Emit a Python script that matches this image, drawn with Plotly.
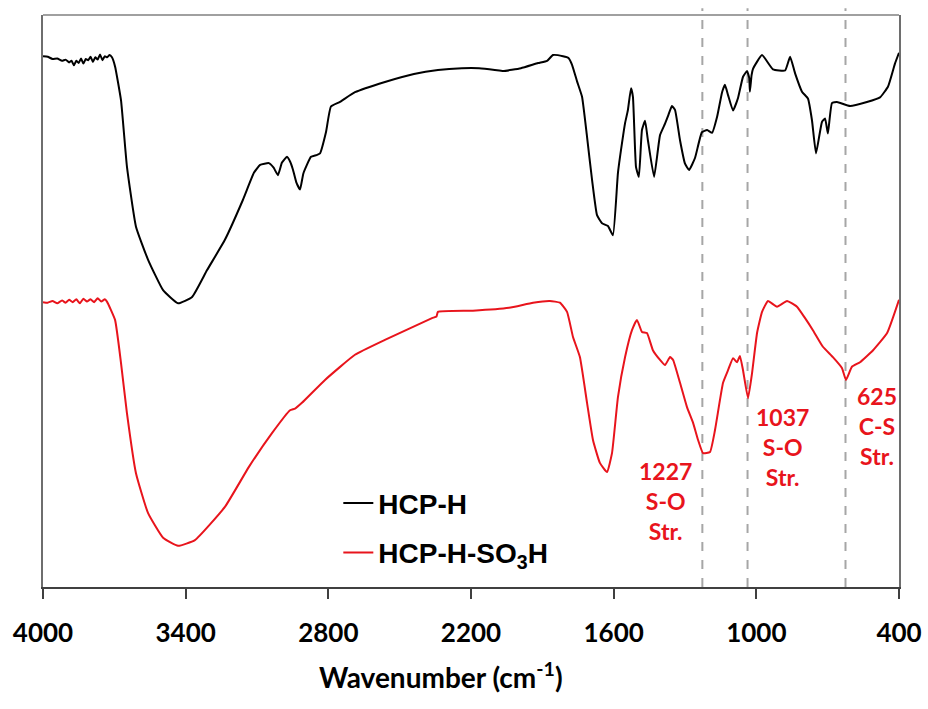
import plotly.graph_objects as go

# ---------------- data ----------------
# HCP-H (black), wavenumber (cm-1) and offset transmittance (a.u.)
hcp_w = [4000, 3980, 3960, 3940, 3920, 3905, 3890, 3880, 3870, 3860, 3850, 3840,
         3830, 3820, 3810, 3800, 3790, 3780, 3770, 3760, 3750, 3740, 3730, 3720,
         3710, 3697, 3672, 3647, 3609, 3558, 3495, 3432, 3373, 3310, 3235, 3159,
         3113, 3087, 3050, 3030, 3012, 2995, 2974, 2960, 2949, 2935, 2919, 2905,
         2873, 2850, 2835, 2810, 2789, 2751, 2688, 2562, 2440, 2339, 2238, 2166,
         2100, 2065, 1990, 1918, 1880, 1855, 1813, 1790, 1775, 1754, 1733, 1712,
         1691, 1670, 1649, 1624, 1603, 1582, 1560, 1552, 1540, 1527, 1519, 1506,
         1494, 1481, 1468, 1456, 1430, 1405, 1384, 1370, 1355, 1342, 1321, 1300,
         1283, 1258, 1229, 1207, 1186, 1165, 1144, 1132, 1119, 1098, 1077, 1056,
         1039, 1030, 1027, 1020, 1014, 976, 930, 879, 858, 837, 808, 783, 766, 749,
         724, 711, 699, 682, 661, 606, 535, 480, 446, 417, 400]
hcp_t = [92.8, 92.7, 92.3, 92.4, 92.0, 92.2, 91.7, 92.0, 91.2, 92.0, 91.6, 92.4,
         91.5, 92.3, 92.1, 92.7, 91.8, 92.6, 92.2, 93.1, 92.1, 92.8, 92.6, 93.0,
         92.6, 91.0, 85.1, 73.5, 63.0, 57.2, 51.9, 49.6, 50.7, 55.4, 60.7, 67.7,
         72.4, 73.8, 74.1, 73.3, 72.0, 74.2, 75.2, 74.3, 73.0, 70.8, 69.5, 72.3,
         75.2, 75.5, 75.8, 79.5, 84.0, 84.8, 86.5, 88.3, 89.7, 90.4, 90.7, 90.7,
         90.4, 90.2, 90.7, 91.6, 92.0, 93.0, 92.8, 92.5, 91.3, 88.4, 85.7, 78.7,
         71.2, 65.0, 63.6, 63.1, 61.5, 72.4, 79.0, 81.1, 83.4, 87.2, 85.7, 73.4,
         71.7, 79.9, 81.5, 78.1, 71.7, 79.0, 81.0, 82.5, 84.1, 83.4, 78.1, 74.0,
         72.9, 75.0, 79.5, 79.9, 79.4, 82.2, 86.5, 87.8, 86.0, 83.3, 85.5, 89.2,
         90.2, 89.0, 86.6, 89.5, 90.6, 93.0, 90.5, 90.3, 92.7, 89.8, 86.6, 85.4, 81.6, 75.8,
         81.3, 81.9, 79.3, 84.6, 84.8, 84.1, 84.8, 85.6, 87.5, 91.5, 93.4]

# HCP-H-SO3H (red)
so3h_w = [4000, 3980, 3960, 3940, 3920, 3905, 3890, 3875, 3860, 3845, 3830, 3815,
          3800, 3785, 3770, 3755, 3740, 3731, 3697, 3672, 3647, 3609, 3558, 3495,
          3432, 3361, 3235, 3134, 3037, 2961, 2940, 2911, 2814, 2688, 2562, 2364,
          2345, 2339, 2192, 2040, 1939, 1868, 1826, 1796, 1771, 1742, 1712, 1687,
          1658, 1628, 1607, 1582, 1552, 1523, 1502, 1481, 1460, 1435, 1405, 1384,
          1363, 1350, 1321, 1292, 1266, 1245, 1224, 1195, 1174, 1140, 1119, 1098,
          1081, 1069, 1056, 1035, 1018, 997, 976, 951, 913, 871, 829, 795, 762, 720,
          678, 640, 623, 598, 564, 509, 450, 400]
so3h_t = [49.8, 49.7, 50.0, 49.6, 50.1, 49.7, 50.2, 49.8, 50.3, 49.6, 50.4, 49.9,
          50.3, 49.8, 50.5, 49.9, 50.3, 49.9, 46.7, 39.2, 30.4, 19.9, 12.9, 8.6,
          7.2, 8.2, 14.0, 21.0, 26.9, 30.9, 31.2, 32.2, 36.2, 40.6, 43.2, 47.0,
          47.3, 48.1, 48.3, 48.8, 49.7, 50.0, 49.7, 48.1, 43.7, 40.2, 32.2, 25.7,
          21.7, 20.1, 23.4, 33.2, 40.2, 44.9, 46.7, 44.6, 44.4, 41.4, 39.7, 38.8,
          40.2, 39.7, 35.7, 31.5, 28.7, 25.7, 23.4, 23.6, 27.4, 35.7, 37.9, 40.0,
          39.3, 40.4, 37.9, 33.0, 37.4, 44.4, 48.1, 50.0, 49.0, 50.0, 49.0, 47.0,
          44.9, 42.0, 40.2, 38.3, 36.2, 38.5, 39.3, 41.4, 44.4, 50.2]

series_names = ["HCP-H", "HCP-H-SO<sub>3</sub>H"]
series_colors = ["#000000", "#e8141c"]

peak_positions = [1227, 1037, 625]
peak_labels = ["1227<br>S-O<br>Str.", "1037<br>S-O<br>Str.", "625<br>C-S<br>Str."]

x_ticks = [4000, 3400, 2800, 2200, 1600, 1000, 400]

# ---------------- figure ----------------
fig = go.Figure()
for i, (w, t) in enumerate([(hcp_w, hcp_t), (so3h_w, so3h_t)]):
    fig.add_trace(go.Scatter(
        x=w, y=t, mode="lines", name=series_names[i],
        legendgroup=f"g{i}",
        line=dict(color=series_colors[i], width=2, shape="spline", smoothing=0.4),
    ))

for p in peak_positions:
    fig.add_shape(type="line", xref="x", yref="paper", x0=p, x1=p, y0=0, y1=1.012,
                  line=dict(color="#a6a6a6", width=2, dash="dash"), layer="below")

# top border (lighter)
fig.add_shape(type="line", xref="paper", yref="paper", x0=0, x1=1, y0=1, y1=1,
              line=dict(color="#808080", width=1.5))

label_shift = [(-37, 0.150), (35, 0.245), (31, 0.281)]
for p, lab, (dx, yy) in zip(peak_positions, peak_labels, label_shift):
    fig.add_annotation(x=p, xref="x", y=yy, yref="paper", xshift=dx,
                       text=lab, showarrow=False, align="center",
                       xanchor="center", yanchor="middle",
                       font=dict(family="Lato", size=23, color="#e8141c", weight="bold"))

fig.add_annotation(x=0.465, xref="paper", y=-0.154, yref="paper",
                   text="Wavenumber (cm<sup>-1</sup>)", showarrow=False,
                   xanchor="center", yanchor="middle",
                   font=dict(family="Lato", size=28, color="#000000", weight="bold"))

fig.update_layout(
    width=928, height=709,
    margin=dict(l=43, r=29, t=15, b=122, autoexpand=False),
    paper_bgcolor="white", plot_bgcolor="white",
    showlegend=True,
    legend=dict(x=0.345, y=0.19, xanchor="left", yanchor="top",
                bgcolor="rgba(0,0,0,0)", borderwidth=0,
                traceorder="grouped", tracegroupgap=10,
                font=dict(family="Liberation Sans", size=28, color="#000000", weight="bold")),
    xaxis=dict(range=[4000, 400], tickvals=x_ticks, ticktext=[str(v) for v in x_ticks],
               showgrid=False, zeroline=False, automargin=False,
               showline=True, linecolor="#404040", linewidth=2,
               ticks="outside", ticklen=10, tickwidth=2, tickcolor="#404040",
               ticklabelstandoff=12,
               tickfont=dict(family="Lato", size=26, color="#000000", weight="bold")),
    yaxis=dict(range=[0, 100], showgrid=False, zeroline=False, showticklabels=False,
               automargin=False,
               ticks="", showline=True, mirror=True, linecolor="#6e6e6e", linewidth=1.5),
)

fig.write_html("out.html", config={"displayModeBar": False},
               post_script="document.body.style.margin='0';document.body.style.overflow='hidden';")
